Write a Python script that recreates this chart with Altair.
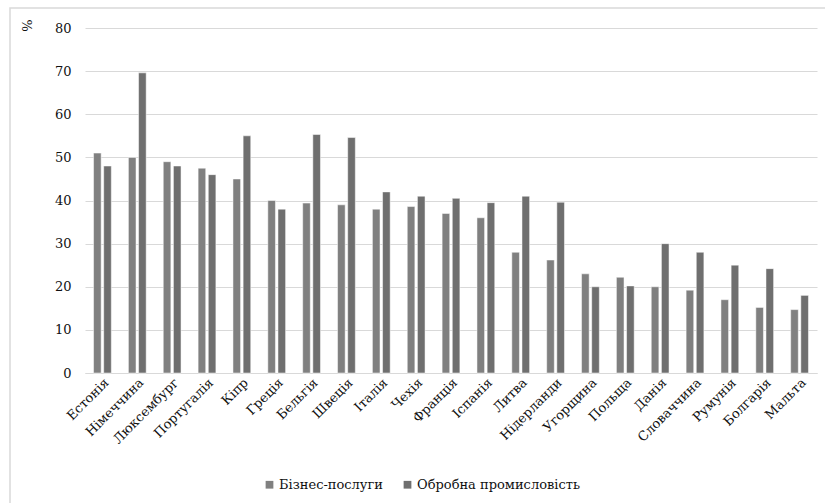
import altair as alt
import pandas as pd

countries = ["Естонія", "Німеччина", "Люксембург", "Португалія", "Кіпр", "Греція",
             "Бельгія", "Швеція", "Італія", "Чехія", "Франція", "Іспанія", "Литва",
             "Нідерланди", "Угорщина", "Польща", "Данія", "Словаччина", "Румунія",
             "Болгарія", "Мальта"]
business = [51, 50, 49, 47.5, 45, 40, 39.4, 39, 38, 38.6, 37, 36, 28, 26.2,
            23, 22.2, 20, 19.2, 17, 15.2, 14.7]
manufacturing = [48, 69.6, 48, 46, 55, 38, 55.3, 54.6, 42, 41, 40.5, 39.5, 41, 39.6,
                 20, 20.2, 30, 28, 25, 24.2, 18]
series = ["Бізнес-послуги", "Обробна промисловість"]
colors = ["#808080", "#6f6f6f"]

rows = []
for c, b, m in zip(countries, business, manufacturing):
    rows.append({"country": c, "series": series[0], "value": b})
    rows.append({"country": c, "series": series[1], "value": m})
df = pd.DataFrame(rows)

FONT = "DejaVu Serif"
FS = 13
W, H = 732, 345

bars = alt.Chart(df).mark_bar(stroke="white", strokeWidth=0.5).encode(
    x=alt.X("country:N", sort=countries,
            scale=alt.Scale(paddingInner=0.49, paddingOuter=0.245),
            axis=alt.Axis(title=None, labelAngle=-45, labelAlign="right",
                          labelBaseline="top", labelPadding=3, ticks=False,
                          domain=True, domainColor="#d9d9d9", labelFont=FONT,
                          labelFontSize=FS, labelColor="#111", labelLimit=300)),
    xOffset=alt.XOffset("series:N", sort=series, scale=alt.Scale(paddingInner=0.25)),
    y=alt.Y("value:Q", scale=alt.Scale(domain=[0, 80], nice=False),
            axis=alt.Axis(values=list(range(0, 81, 10)), title="%", titleAngle=270,
                          titleX=-58, titleY=-3, titleFont=FONT, titleFontSize=FS,
                          titleFontWeight="normal", titleColor="#111",
                          titleAlign="center", titleBaseline="middle",
                          domain=False, ticks=False, labelPadding=14,
                          labelFont=FONT, labelFontSize=FS, labelColor="#111",
                          gridColor="#d9d9d9", gridWidth=1)),
    color=alt.Color("series:N", sort=series,
                    scale=alt.Scale(domain=series, range=colors),
                    legend=alt.Legend(title=None, orient="none", direction="horizontal",
                                      legendX=178, legendY=450, symbolType="square",
                                      symbolSize=60, symbolStrokeWidth=0,
                                      labelFont=FONT, labelFontSize=FS, labelLimit=400,
                                      labelColor="#111", columnPadding=18,
                                      labelOffset=3)),
)

frame = alt.Chart(pd.DataFrame({"a": [0]})).mark_rect(
    filled=False, stroke="#d9d9d9", strokeWidth=1.5, clip=False
).encode(
    x=alt.value(-75), x2=alt.value(W + 40), y=alt.value(-20), y2=alt.value(H + 160)
)

chart = alt.layer(frame, bars).properties(
    width=W, height=H,
    padding={"left": 85, "top": 28, "right": 8, "bottom": 130},
    autosize=alt.AutoSizeParams(type="none"),
).configure(font=FONT).configure_view(stroke=None)

chart.save("out.html", embed_options={"renderer": "svg", "actions": False})
